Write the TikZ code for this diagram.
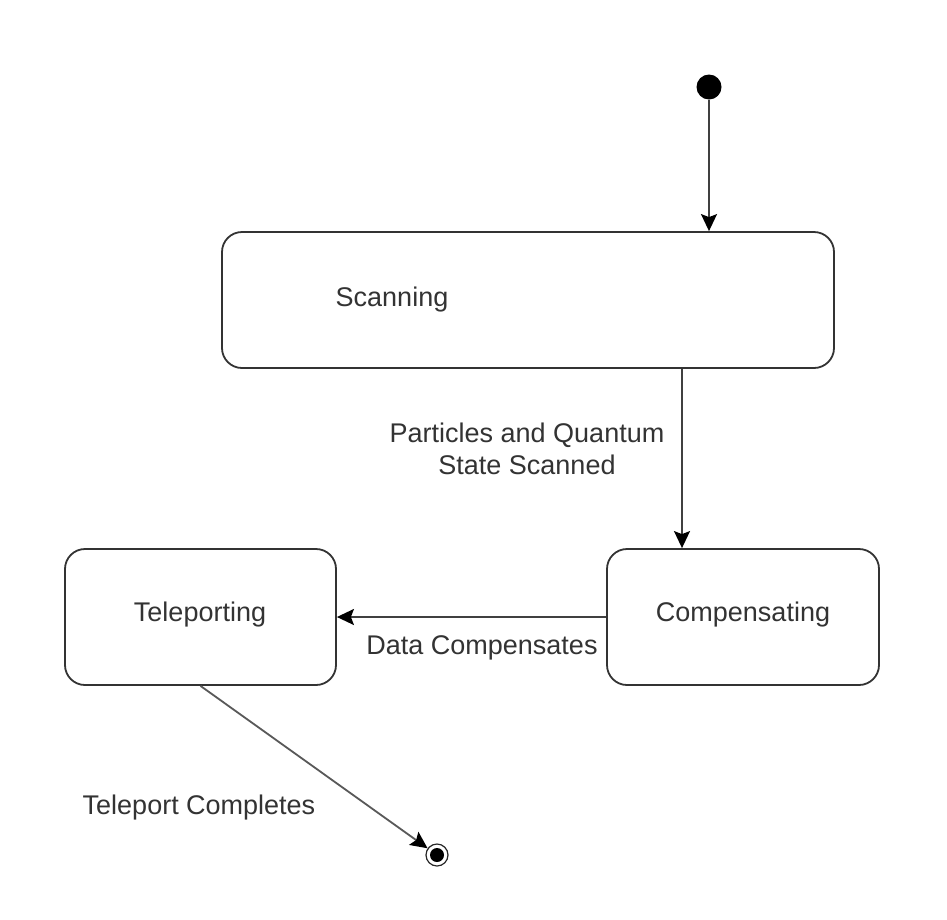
\documentclass[tikz,border=0pt]{standalone}
\usepackage{fontspec}
\setmainfont{Liberation Sans}
\usetikzlibrary{arrows.meta,calc}
\begin{document}
\begin{tikzpicture}[x=1pt,y=-1pt,
  statebox/.style={draw=black!80, line width=1.8pt, rounded corners=20pt, fill=white, inner sep=0pt},
  txt/.style={text=black!80, font=\fontsize{27}{32}\selectfont, inner sep=0pt, align=center},
  arr/.style={draw=black!75, line width=1.8pt, -{Stealth[length=17pt,width=16pt,inset=3pt,black]}},
]
\useasboundingbox[fill=white] (0,0) rectangle (947,919);
% start
\node[circle, fill=black, minimum size=25pt, inner sep=0pt] (start) at (709,87) {};
% states
\node[statebox, minimum width=612pt, minimum height=136pt] (scan) at (528,300) {};
\node[txt] (scantxt) at (392,300) {Scanning};
\node[statebox, minimum width=272pt, minimum height=136pt] (comp) at (743,617) {};
\node[txt] (comptxt) at (743,615) {Compensating};
\node[statebox, minimum width=271pt, minimum height=136pt] (tele) at (200.5,617) {};
\node[txt] (teletxt) at (200,615) {Teleporting};
% end
\node[circle, draw=black!85, line width=1.2pt, minimum size=22pt, inner sep=0pt] (end) at (437,855) {};
\node[circle, fill=black, minimum size=14pt, inner sep=0pt] (endin) at (end.center) {};
% transitions
\draw[arr] (start) -- (start |- scan.north);
\coordinate (sx) at (682,0);
\draw[arr] (sx |- scan.south) -- (sx |- comp.north);
\node[txt] (l1) at (527,449) {Particles and Quantum\\State Scanned};
\draw[arr] (comp.west) -- (tele.east);
\node[txt] (l2) at (482,648) {Data Compensates};
\draw[arr, draw=black!65] (tele.south) -- (end);
\node[txt] (l3) at (199,808) {Teleport Completes};
\end{tikzpicture}
\end{document}
